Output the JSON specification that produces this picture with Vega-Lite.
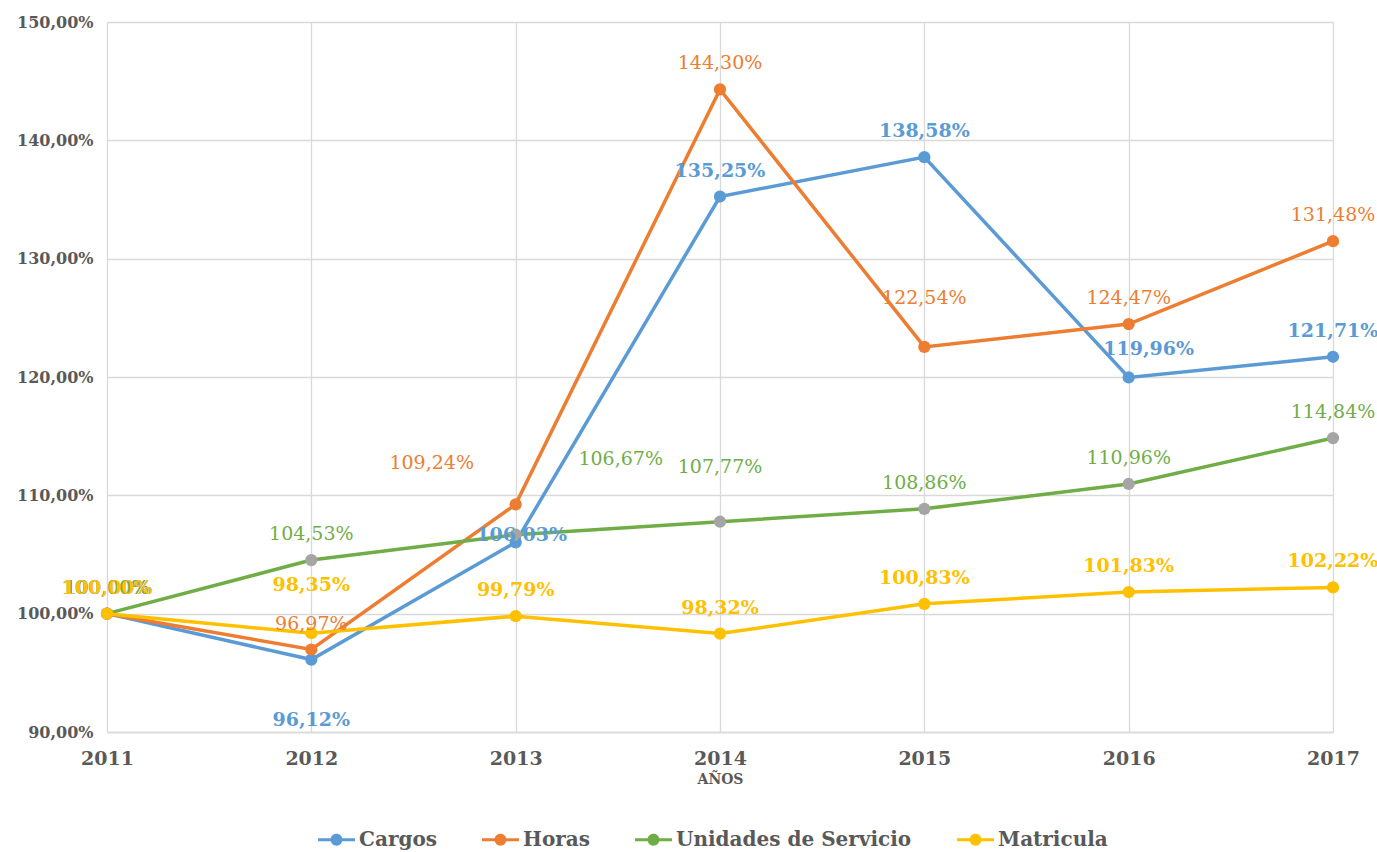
{
  "$schema": "https://vega.github.io/schema/vega-lite/v6.json",
  "autosize": {"type": "none"},
  "padding": {"left": 107, "top": 22, "right": 44, "bottom": 120},
  "width": 1226,
  "height": 710,
  "background": "white",
  "config": {
    "view": {"stroke": null},
    "font": "DejaVu Serif",
    "axis": {"gridColor": "#D9D9D9", "gridWidth": 1.3, "ticks": false, "labelColor": "#595959", "titleColor": "#595959", "labelFont": "DejaVu Serif", "titleFont": "DejaVu Serif"},
    "legend": {
      "title": null, "orient": "none", "direction": "horizontal", "legendX": 211, "legendY": 799,
      "symbolType": "M-1,-0.08L1,-0.08L1,0.08L-1,0.08Z M-0.32,0A0.32,0.32,0,1,1,0.32,0A0.32,0.32,0,1,1,-0.32,0Z",
      "symbolSize": 1369, "symbolStrokeWidth": 0, "symbolOpacity": 1,
      "labelFont": "DejaVu Serif", "labelFontSize": 20, "labelFontWeight": "bold", "labelColor": "#595959",
      "labelOffset": 4, "columnPadding": 45, "labelLimit": 400
    }
  },
  "data": {
    "values": [
      {"series": "Cargos", "year": 2011, "value": 100.00},
      {"series": "Cargos", "year": 2012, "value": 96.12},
      {"series": "Cargos", "year": 2013, "value": 106.03},
      {"series": "Cargos", "year": 2014, "value": 135.25},
      {"series": "Cargos", "year": 2015, "value": 138.58},
      {"series": "Cargos", "year": 2016, "value": 119.96},
      {"series": "Cargos", "year": 2017, "value": 121.71},
      {"series": "Horas", "year": 2011, "value": 100.00},
      {"series": "Horas", "year": 2012, "value": 96.97},
      {"series": "Horas", "year": 2013, "value": 109.24},
      {"series": "Horas", "year": 2014, "value": 144.30},
      {"series": "Horas", "year": 2015, "value": 122.54},
      {"series": "Horas", "year": 2016, "value": 124.47},
      {"series": "Horas", "year": 2017, "value": 131.48},
      {"series": "Unidades de Servicio", "year": 2011, "value": 100.00},
      {"series": "Unidades de Servicio", "year": 2012, "value": 104.53},
      {"series": "Unidades de Servicio", "year": 2013, "value": 106.67},
      {"series": "Unidades de Servicio", "year": 2014, "value": 107.77},
      {"series": "Unidades de Servicio", "year": 2015, "value": 108.86},
      {"series": "Unidades de Servicio", "year": 2016, "value": 110.96},
      {"series": "Unidades de Servicio", "year": 2017, "value": 114.84},
      {"series": "Matricula", "year": 2011, "value": 100.00},
      {"series": "Matricula", "year": 2012, "value": 98.35},
      {"series": "Matricula", "year": 2013, "value": 99.79},
      {"series": "Matricula", "year": 2014, "value": 98.32},
      {"series": "Matricula", "year": 2015, "value": 100.83},
      {"series": "Matricula", "year": 2016, "value": 101.83},
      {"series": "Matricula", "year": 2017, "value": 102.22}
    ]
  },
  "transform": [
    {"calculate": "replace(format(datum.value, '.2f'), '.', ',') + '%'", "as": "label"}
  ],
  "encoding": {
    "x": {
      "field": "year", "type": "quantitative",
      "scale": {"domain": [2011, 2017], "nice": false, "zero": false},
      "axis": {"values": [2011, 2012, 2013, 2014, 2015, 2016, 2017], "format": "d", "title": "AÑOS", "labelFontSize": 19, "labelFontWeight": "bold", "labelPadding": 17, "titleFontSize": 14, "titleFontWeight": "bold", "titlePadding": 4, "domainColor": "#D9D9D9", "domainWidth": 1.3, "labelFlush": false}
    },
    "y": {
      "field": "value", "type": "quantitative",
      "scale": {"domain": [90, 150], "nice": false, "zero": false},
      "axis": {"values": [90, 100, 110, 120, 130, 140, 150], "labelExpr": "replace(format(datum.value, '.2f'), '.', ',') + '%'", "title": null, "labelFontSize": 16, "labelFontWeight": "bold", "labelPadding": 14, "domain": false}
    }
  },
  "layer": [
    {
      "mark": {"type": "line", "strokeWidth": 3.5},
      "encoding": {
        "color": {"field": "series", "type": "nominal",
          "scale": {"domain": ["Cargos", "Horas", "Unidades de Servicio", "Matricula"], "range": ["#5B9BD5", "#ED7D31", "#70AD47", "#FFC000"]}}
      }
    },
    {
      "mark": {"type": "point", "filled": true, "size": 150, "opacity": 1},
      "encoding": {
        "fill": {"field": "series", "type": "nominal",
          "scale": {"domain": ["Cargos", "Horas", "Unidades de Servicio", "Matricula"], "range": ["#5B9BD5", "#ED7D31", "#A5A5A5", "#FFC000"]}}
      }
    },
    {
      "transform": [{"filter": "(datum.series == 'Horas' || datum.series == 'Unidades de Servicio') && indexof(['Horas-2013','Horas-2015','Unidades de Servicio-2013','Unidades de Servicio-2014'], datum.series + '-' + datum.year) < 0"}],
      "mark": {"type": "text", "fontSize": 19, "dy": -26, "baseline": "middle"},
      "encoding": {"text": {"field": "label"}, "color": {"field": "series", "type": "nominal"}}
    },
    {
      "transform": [{"filter": "(datum.series == 'Cargos' || datum.series == 'Matricula') && indexof(['Cargos-2012','Cargos-2013','Cargos-2016','Matricula-2012'], datum.series + '-' + datum.year) < 0"}],
      "mark": {"type": "text", "fontSize": 19, "fontWeight": "bold", "dy": -26, "baseline": "middle"},
      "encoding": {"text": {"field": "label"}, "color": {"field": "series", "type": "nominal"}}
    },
    {
      "transform": [{"filter": "datum.series == 'Cargos' && datum.year == 2012"}],
      "mark": {"type": "text", "fontSize": 19, "fontWeight": "bold", "dy": 60, "baseline": "middle"},
      "encoding": {"text": {"field": "label"}, "color": {"field": "series", "type": "nominal"}}
    },
    {
      "transform": [{"filter": "datum.series == 'Cargos' && datum.year == 2013"}],
      "mark": {"type": "text", "fontSize": 19, "fontWeight": "bold", "dx": 6, "dy": -7, "baseline": "middle"},
      "encoding": {"text": {"field": "label"}, "color": {"field": "series", "type": "nominal"}}
    },
    {
      "transform": [{"filter": "datum.series == 'Cargos' && datum.year == 2016"}],
      "mark": {"type": "text", "fontSize": 19, "fontWeight": "bold", "dx": 20, "dy": -28, "baseline": "middle"},
      "encoding": {"text": {"field": "label"}, "color": {"field": "series", "type": "nominal"}}
    },
    {
      "transform": [{"filter": "datum.series == 'Matricula' && datum.year == 2012"}],
      "mark": {"type": "text", "fontSize": 19, "fontWeight": "bold", "dy": -48, "baseline": "middle"},
      "encoding": {"text": {"field": "label"}, "color": {"field": "series", "type": "nominal"}}
    },
    {
      "transform": [{"filter": "datum.series == 'Horas' && datum.year == 2013"}],
      "mark": {"type": "text", "fontSize": 19, "dx": -84, "dy": -41, "baseline": "middle"},
      "encoding": {"text": {"field": "label"}, "color": {"field": "series", "type": "nominal"}}
    },
    {
      "transform": [{"filter": "datum.series == 'Horas' && datum.year == 2015"}],
      "mark": {"type": "text", "fontSize": 19, "dy": -49, "baseline": "middle"},
      "encoding": {"text": {"field": "label"}, "color": {"field": "series", "type": "nominal"}}
    },
    {
      "transform": [{"filter": "datum.series == 'Unidades de Servicio' && datum.year == 2013"}],
      "mark": {"type": "text", "fontSize": 19, "dx": 105, "dy": -76, "baseline": "middle"},
      "encoding": {"text": {"field": "label"}, "color": {"field": "series", "type": "nominal"}}
    },
    {
      "transform": [{"filter": "datum.series == 'Unidades de Servicio' && datum.year == 2014"}],
      "mark": {"type": "text", "fontSize": 19, "dy": -55, "baseline": "middle"},
      "encoding": {"text": {"field": "label"}, "color": {"field": "series", "type": "nominal"}}
    }
  ]
}
